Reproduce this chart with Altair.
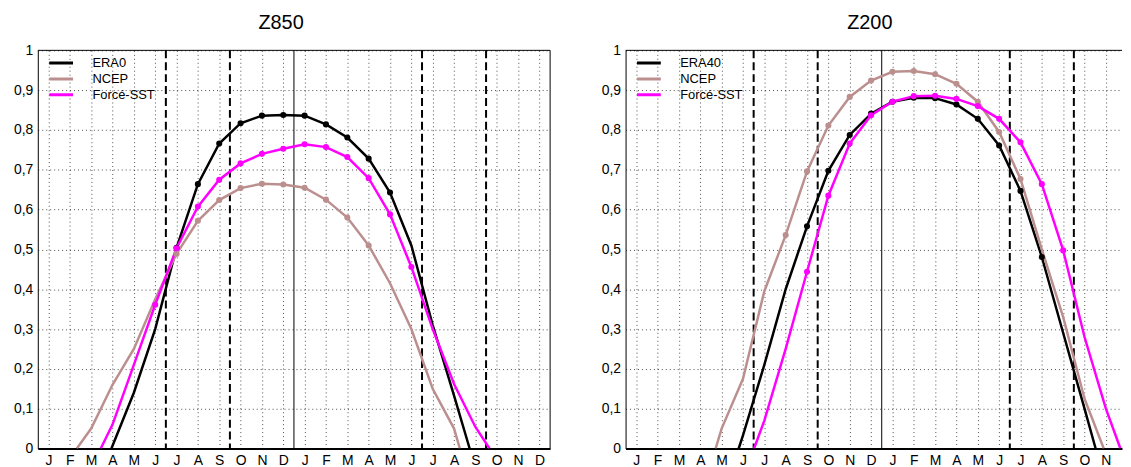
import altair as alt
import pandas as pd

FONT = "Liberation Sans"

month_letters = ["J", "F", "M", "A", "M", "J", "J", "A", "S", "O", "N", "D"]
y_ticks = [0.0, 0.1, 0.2, 0.3, 0.4, 0.5, 0.6, 0.7, 0.8, 0.9, 1.0]
dashed_months = [5.5, 8.5, 17.5, 20.5]
year_split = [11.5]
series_colors = ["#000000", "#bc8f8f", "#ff00ff"]

# ---- Z850 ----
z850_names = ["ERA0", "NCEP", "Forcé-SST"]
z850_era_x = [2.95, 4, 5, 6, 7, 8, 9, 10, 11, 12, 13, 14, 15, 16, 17, 18, 19, 19.73]
z850_era_y = [0, 0.14, 0.30, 0.504, 0.664, 0.766, 0.817, 0.836, 0.8375, 0.836, 0.814,
              0.781, 0.728, 0.643, 0.51, 0.31, 0.133, 0]
z850_era_dots = [6, 16]
z850_ncep_x = [1.33, 2, 3, 4, 5, 6, 7, 8, 9, 10, 11, 12, 13, 14, 15, 16, 17, 18, 19, 19.27]
z850_ncep_y = [0, 0.05, 0.16, 0.25, 0.375, 0.489, 0.572, 0.624, 0.654, 0.665, 0.663,
               0.655, 0.625, 0.58, 0.51, 0.415, 0.30, 0.15, 0.05, 0]
z850_ncep_dots = [6, 15]
z850_sst_x = [2.45, 3, 4, 5, 6, 7, 8, 9, 10, 11, 12, 13, 14, 15, 16, 17, 18, 19, 20, 20.66]
z850_sst_y = [0, 0.06, 0.21, 0.361, 0.503, 0.6075, 0.675, 0.716, 0.74, 0.753, 0.764,
              0.757, 0.732, 0.679, 0.588, 0.456, 0.30, 0.162, 0.054, 0]
z850_sst_dots = [5, 17]

# ---- Z200 ----
z200_names = ["ERA40", "NCEP", "Forcé-SST"]
z200_era_x = [4.8, 5, 6, 7, 8, 9, 10, 11, 12, 13, 14, 15, 16, 17, 18, 19, 20, 21, 21.52]
z200_era_y = [0, 0.033, 0.21, 0.40, 0.558, 0.6975, 0.7875, 0.841, 0.871, 0.881, 0.88,
              0.864, 0.828, 0.761, 0.647, 0.481, 0.29, 0.10, 0]
z200_era_dots = [8, 19]
z200_ncep_x = [3.72, 4, 5, 6, 7, 8, 9, 10, 11, 12, 13, 14, 15, 16, 17, 18, 19, 20, 21, 21.9]
z200_ncep_y = [0, 0.05, 0.175, 0.395, 0.536, 0.696, 0.811, 0.883, 0.924, 0.946, 0.948,
               0.94, 0.916, 0.871, 0.795, 0.677, 0.5, 0.33, 0.125, 0]
z200_ncep_dots = [7, 18]
z200_sst_x = [5.52, 6, 7, 8, 9, 10, 11, 12, 13, 14, 15, 16, 17, 18, 19, 20, 21, 22, 22.68]
z200_sst_y = [0, 0.07, 0.25, 0.444, 0.635, 0.766, 0.837, 0.871, 0.885, 0.886, 0.878,
              0.86, 0.828, 0.769, 0.664, 0.4975, 0.28, 0.10, 0]
z200_sst_dots = [8, 20]


def series_frame(names, xs, ys, dots):
    rows = []
    for name, x_list, y_list, (d0, d1) in zip(names, xs, ys, dots):
        for xv, yv in zip(x_list, y_list):
            rows.append({"series": name, "month": xv, "value": yv,
                         "dot": bool(d0 <= xv <= d1 and float(xv).is_integer())})
    return pd.DataFrame(rows)


def panel(title, names, xs, ys, dots, width, x_max, last_label, title_dx, right_border):
    df = series_frame(names, xs, ys, dots)
    letters = "[" + ",".join("'%s'" % m for m in month_letters) + "]"
    xscale = alt.Scale(domain=[-0.5, x_max], nice=False, zero=False)
    yscale = alt.Scale(domain=[0, 1], nice=False, zero=False)
    xaxis = alt.Axis(values=list(range(last_label + 1)),
                     labelExpr=letters + "[datum.value % 12]",
                     grid=True, gridDash=[1, 3], gridColor="#000000", gridOpacity=0.7,
                     ticks=False, domain=True, domainColor="black", domainWidth=2,
                     labelFontSize=14, labelFont=FONT, labelColor="black",
                     labelPadding=5, labelFlush=False, labelOverlap=False, title=None)
    yaxis = alt.Axis(values=y_ticks,
                     labelExpr="replace(format(datum.value, '.1~f'), '.', ',')",
                     grid=True, gridDash=[1, 3], gridColor="#000000", gridOpacity=0.7,
                     ticks=False, domain=True, domainColor="black", domainWidth=1,
                     labelFontSize=14, labelFont=FONT, labelColor="black",
                     labelPadding=5, labelFlush=False, labelOverlap=False, title=None)
    x = alt.X("month:Q", scale=xscale, axis=xaxis)
    y = alt.Y("value:Q", scale=yscale, axis=yaxis)
    cscale = alt.Scale(domain=names, range=series_colors)

    dashed = alt.Chart(pd.DataFrame({"month": dashed_months})).mark_rule(
        color="black", strokeWidth=2, strokeDash=[8, 4]).encode(x=x)
    split = alt.Chart(pd.DataFrame({"month": year_split})).mark_rule(
        color="black", strokeWidth=1).encode(x=x)
    lines = alt.Chart(df).mark_line(strokeWidth=2.5, interpolate="linear", clip=True).encode(
        x=x, y=y,
        color=alt.Color("series:N", scale=cscale, sort=names,
                        legend=alt.Legend(orient="none", legendX=10, legendY=5,
                                          direction="vertical", title=None,
                                          symbolType="stroke", symbolSize=576,
                                          symbolStrokeWidth=3, labelFontSize=13,
                                          labelFont=FONT, labelColor="black",
                                          labelOffset=18, clipHeight=15.5,
                                          rowPadding=0, padding=0)))
    points = alt.Chart(df).transform_filter("datum.dot").mark_circle(size=38, opacity=1).encode(
        x=x, y=y, color=alt.Color("series:N", scale=cscale, legend=None))
    top = alt.Chart(pd.DataFrame({"value": [1.0]})).mark_rule(
        color="black", strokeWidth=1).encode(y=y)
    layers = [dashed, split, lines, points, top]
    if right_border:
        layers.append(alt.Chart(pd.DataFrame({"month": [23.5]})).mark_rule(
            color="black", strokeWidth=1).encode(x=x))
    return alt.layer(*layers).properties(
        width=width, height=401,
        title=alt.TitleParams(text=title, fontSize=20, font=FONT, fontWeight="normal",
                              color="black", anchor="middle", offset=10, dx=title_dx))


left = panel("Z850", z850_names,
             [z850_era_x, z850_ncep_x, z850_sst_x],
             [z850_era_y, z850_ncep_y, z850_sst_y],
             [z850_era_dots, z850_ncep_dots, z850_sst_dots],
             516, 23.5, 23, -13, True)
right = panel("Z200", z200_names,
              [z200_era_x, z200_ncep_x, z200_sst_x],
              [z200_era_y, z200_ncep_y, z200_sst_y],
              [z200_era_dots, z200_ncep_dots, z200_sst_dots],
              500, -0.5 + 500 / 21.5, 22, -4, False)

chart = alt.hconcat(left, right, spacing=50).resolve_scale(
    x="independent", y="independent", color="independent"
).configure_view(stroke=None).properties(
    padding={"left": 5, "top": 4, "right": 0, "bottom": 0}, background="white")

chart.save("out.html", embed_options={"renderer": "svg", "actions": False})
